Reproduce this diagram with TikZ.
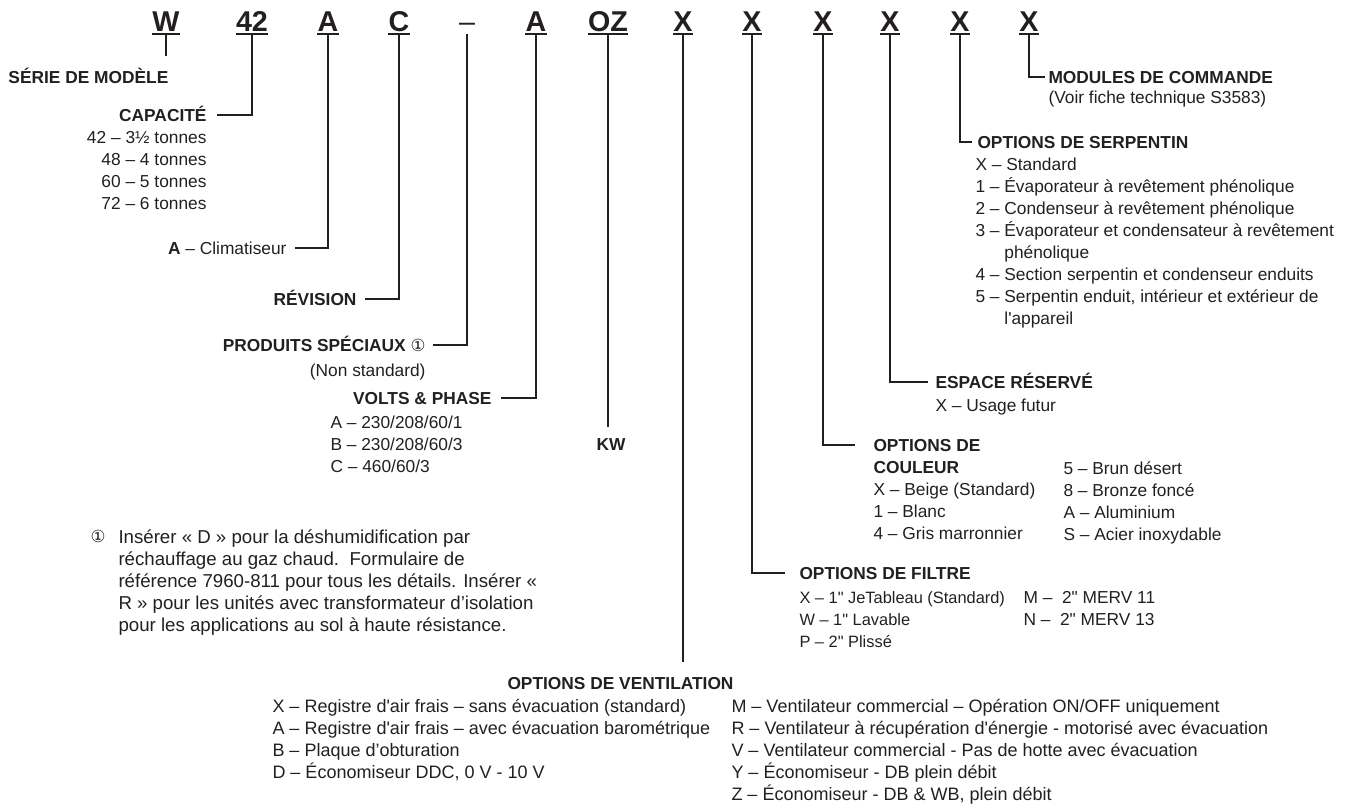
\documentclass[tikz,border=0pt]{standalone}
\usepackage{fontspec}
\setmainfont{Liberation Sans}
\newfontfamily\circfont{DejaVu Sans}
\definecolor{ink}{RGB}{35,31,32}

\tikzset{every picture/.style={line width=0.75pt}}
\tikzset{
	code/.style={font=\fontsize{21.5}{21.5}\selectfont\bfseries, text=ink, inner xsep=0pt, inner ysep=2pt, anchor=base},
	codedash/.style={font=\fontsize{21.5}{21.5}\selectfont, text=ink, inner xsep=0pt, inner ysep=2pt, anchor=base},
	head/.style={font=\fontsize{13}{16.5}\selectfont\bfseries, text=ink, inner sep=0pt, text height=9.3pt, text depth=0pt},
	item/.style={font=\fontsize{13}{16.5}\selectfont, text=ink, inner sep=0pt},
	ventitem/.style={font=\fontsize{13.5}{16.5}\selectfont, text=ink, inner sep=0pt},
	note/.style={font=\fontsize{14}{16.5}\selectfont, text=ink, inner sep=0pt},
	lead/.style={draw=ink, line width=1.9pt},
	uline/.style={draw=ink, line width=1.5pt}}
\newcommand{\inch}{\textquotedbl}
\newcommand{\sq}{\textquotesingle}

\begin{document}
\begin{tikzpicture}[x=0.75pt,y=0.75pt,yscale=-1,xscale=1]
	\useasboundingbox (0,0) rectangle (1364,804);
	
	% Code Nodes
	\node [code] (cSerie) at (166,31) {W};
	\node [code] (cCap) at (252,31) {42};
	\node [code] (cType) at (328,31) {A};
	\node [code] (cRev) at (399,31) {C};
	\node [codedash] (cSpec) at (467,31) {–};
	\node [code] (cVolt) at (536,31) {A};
	\node [code] (cKw) at (608,31) {OZ};
	\node [code] (cVent) at (683,31) {X};
	\node [code] (cFilt) at (752,31) {X};
	\node [code] (cCoul) at (823,31) {X};
	\node [code] (cRes) at (890,31) {X};
	\node [code] (cSerp) at (960,31) {X};
	\node [code] (cMod) at (1029,31) {X};
	%Underlines
	\draw [uline] (cSerie.south west) -- (cSerie.south east);
	\draw [uline] (cCap.south west) -- (cCap.south east);
	\draw [uline] (cType.south west) -- (cType.south east);
	\draw [uline] (cRev.south west) -- (cRev.south east);
	\draw [uline] (cVolt.south west) -- (cVolt.south east);
	\draw [uline] (cKw.south west) -- (cKw.south east);
	\draw [uline] (cVent.south west) -- (cVent.south east);
	\draw [uline] (cFilt.south west) -- (cFilt.south east);
	\draw [uline] (cCoul.south west) -- (cCoul.south east);
	\draw [uline] (cRes.south west) -- (cRes.south east);
	\draw [uline] (cSerp.south west) -- (cSerp.south east);
	\draw [uline] (cMod.south west) -- (cMod.south east);
	
	% Text Node
	\node [head, anchor=west] (serie) at (8,77) {SÉRIE DE MODÈLE};
	% Text Node
	\node [head, anchor=east] (capacite) at (207,115) {CAPACITÉ};
	\node [item, anchor=north east, align=right] (capList) at (207,130.8) {42 – 3½ tonnes\\48 – 4 tonnes\\60 – 5 tonnes\\72 – 6 tonnes};
	% Text Node
	\node [item, anchor=east, text height=9.3pt, text depth=0pt] (climat) at (287,248) {\textbf{A} – Climatiseur};
	% Text Node
	\node [head, anchor=east] (revision) at (357,299) {RÉVISION};
	% Text Node
	\node [head, anchor=east] (speciaux) at (426,345) {PRODUITS SPÉCIAUX {\circfont\mdseries\fontsize{12.5}{12.5}\selectfont ①}};
	\node [item, anchor=north east] (nonStd) at (426,363.8) {(Non standard)};
	% Text Node
	\node [head, anchor=east] (volts) at (492,398) {VOLTS \& PHASE};
	\node [item, anchor=north west, align=left] (voltList) at (330,415.8) {A – 230/208/60/1\\B – 230/208/60/3\\C – 460/60/3};
	% Text Node
	\node [head] (kw) at (611,444) {KW};
	% Text Node
	\node [note] (fnMark) at (98,536) {\circfont\fontsize{12.5}{12.5}\selectfont ①};
	\node [note, anchor=north west, align=left] (fnText) at (118,529.5) {Insérer « D » pour la déshumidification par\\réchauffage au gaz chaud.\ \ Formulaire de\\référence 7960-811 pour tous les détails. Insérer «\\R » pour les unités avec transformateur d’isolation\\pour les applications au sol à haute résistance.};
	% Text Node
	\node [head, anchor=west] (vent) at (507,683) {OPTIONS DE VENTILATION};
	\node [ventitem, anchor=north west, align=left] (ventL) at (272,698.6) {X – Registre d\sq air frais – sans évacuation (standard)\\A – Registre d\sq air frais – avec évacuation barométrique\\B – Plaque d’obturation\\D – Économiseur DDC, 0 V - 10 V};
	\node [ventitem, anchor=north west, align=left] (ventR) at (731,698.6) {M – Ventilateur commercial – Opération ON/OFF uniquement\\R – Ventilateur à récupération d\sq énergie - motorisé avec évacuation\\V – Ventilateur commercial - Pas de hotte avec évacuation\\Y – Économiseur - DB plein débit\\Z – Économiseur - DB \& WB, plein débit};
	% Text Node
	\node [head, anchor=west] (filtre) at (799,573) {OPTIONS DE FILTRE};
	\node [item, font=\fontsize{12.3}{16.5}\selectfont, anchor=north west, align=left] (filtreL) at (799,591.2) {X – 1\inch{} JeTableau (Standard)\\W – 1\inch{} Lavable\\P – 2\inch{} Plissé};
	\node [item, anchor=north west, align=left] (filtreR) at (1023,590.8) {M – \ 2\inch{} MERV 11\\N – \ 2\inch{} MERV 13};
	% Text Node
	\node [head, anchor=west] (couleur) at (873,445) {OPTIONS DE};
	\node [head, anchor=west] (couleurB) at (873,467) {COULEUR};
	\node [item, anchor=north west, align=left] (couleurL) at (873,482.8) {X – Beige (Standard)\\1 – Blanc\\4 – Gris marronnier};
	\node [item, anchor=north west, align=left] (couleurR) at (1063,460.8) {5 – Brun désert\\8 – Bronze foncé\\A – Aluminium\\S – Acier inoxydable};
	% Text Node
	\node [head, anchor=west] (espace) at (935,382) {ESPACE RÉSERVÉ};
	\node [item, anchor=north west] (espaceL) at (935,398.8) {X – Usage futur};
	% Text Node
	\node [head, anchor=west] (serp) at (977,142) {OPTIONS DE SERPENTIN};
	\node [item, anchor=north west, align=left] (serpList) at (975,157.8) {X – Standard\\1 – Évaporateur à revêtement phénolique\\2 – Condenseur à revêtement phénolique\\3 – Évaporateur et condensateur à revêtement\\\phantom{3 – }phénolique\\4 – Section serpentin et condenseur enduits\\5 – Serpentin enduit, intérieur et extérieur de\\\phantom{5 – }l\sq appareil};
	% Text Node
	\node [head, anchor=west] (modules) at (1048,77) {MODULES DE COMMANDE};
	\node [item, anchor=north west] (modulesSub) at (1048,90.8) {(Voir fiche technique S3583)};
	
	%Straight Lines
	\draw [lead, shorten >=10.5pt] (cSerie.south) -- (cSerie.south |- serie.north);
	\draw [lead] (cCap.south) |- ([xshift=7.5pt]capacite.east);
	\draw [lead] (cType.south) |- ([xshift=6pt]climat.east);
	\draw [lead] (cRev.south) |- ([xshift=6pt]revision.east);
	\draw [lead] (cSpec.south) |- ([xshift=5pt]speciaux.east);
	\draw [lead] (cVolt.south) |- ([xshift=6.5pt]volts.east);
	\draw [lead, shorten >=7.5pt] (cKw.south) -- (cKw.south |- kw.north);
	\draw [lead, shorten >=10.5pt] (cVent.south) -- (cVent.south |- vent.north);
	\draw [lead] (cFilt.south) |- ([xshift=-10.5pt]filtre.west);
	\draw [lead] (cCoul.south) |- ([xshift=-13.5pt]couleur.west);
	\draw [lead] (cRes.south) |- ([xshift=-5.25pt]espace.west);
	\draw [lead] (cSerp.south) |- ([xshift=-3.75pt]serp.west);
	\draw [lead] (cMod.south) |- ([xshift=-2pt]modules.west);
	
\end{tikzpicture}
\end{document}
